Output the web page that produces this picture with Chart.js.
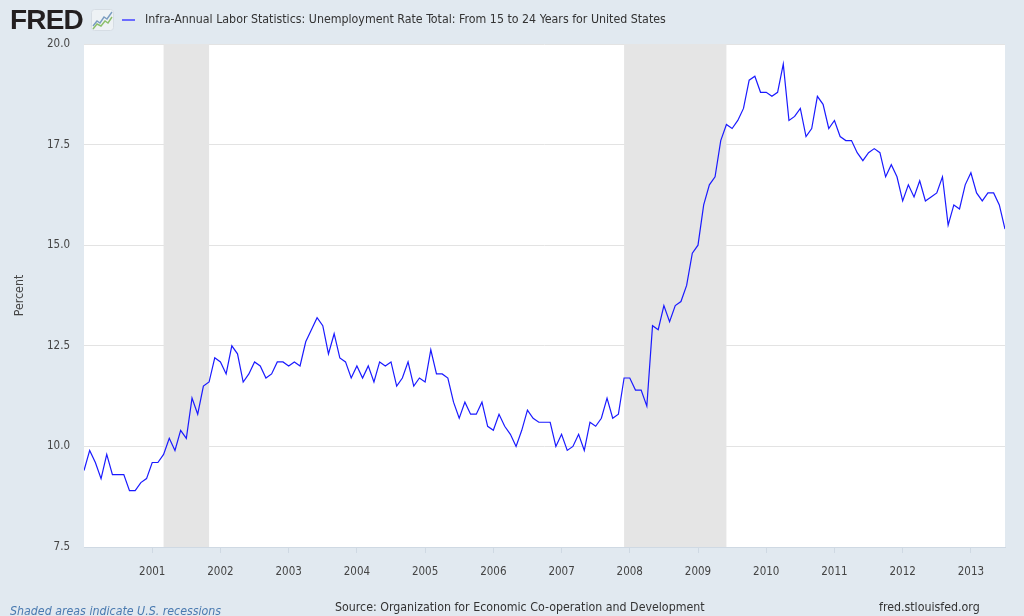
<!DOCTYPE html>
<html>
<head>
<meta charset="utf-8">
<script src="https://cdn.jsdelivr.net/npm/chart.js@4/dist/chart.umd.min.js"></script>
<style>
  html, body { margin:0; padding:0; background:#e1e9f0; }
  body { width:1024px; height:616px; position:relative; overflow:hidden; font-family:"Liberation Sans Narrow","DejaVu Sans Condensed","Liberation Sans",sans-serif; }
  #wrap { position:absolute; left:0; top:0; width:1024px; height:616px; }
  .logo { position:absolute; left:10px; top:5px; font-family:"Liberation Sans","DejaVu Sans",sans-serif; font-weight:bold; font-size:28px; letter-spacing:-0.8px; color:#231f20; line-height:30px; }
  .icon { position:absolute; left:91px; top:9px; }
  .legline { position:absolute; left:122px; top:19px; width:13px; height:2px; background:#6b6bff; }
  .legtxt { position:absolute; left:145px; top:12px; font-size:12.3px; color:#333; white-space:nowrap; }
  .foot { position:absolute; font-size:12.3px; color:#333; white-space:nowrap; }
</style>
</head>
<body>
<div id="wrap"><canvas id="c" width="1024" height="616"></canvas></div>
<div class="logo">FRED</div>
<svg class="icon" width="23" height="22" viewBox="0 0 23 22">
  <rect x="0.5" y="0.5" width="22" height="21" rx="3" fill="#eef2f5" stroke="#d6dde4"/>
  <polyline points="2,17 6,12 9,14 13,8 16,10 21,3" fill="none" stroke="#7a9cc0" stroke-width="1.4"/>
  <polyline points="2,20 6,15 10,17 14,12 17,14 21,8" fill="none" stroke="#8bbf6a" stroke-width="1.4"/>
</svg>
<div class="legline"></div>
<div class="legtxt">Infra-Annual Labor Statistics: Unemployment Rate Total: From 15 to 24 Years for United States</div>
<div class="foot" style="left:10px;top:604px;color:#4a7ab0;font-style:italic;">Shaded areas indicate U.S. recessions</div>
<div class="foot" style="left:335px;top:600px;">Source: Organization for Economic Co-operation and Development</div>
<div class="foot" style="left:879px;top:600px;">fred.stlouisfed.org</div>
<script>
// ---- data ----
const startYear = 2000;      // first observation: January 2000 (monthly)
const seriesLabel = "Infra-Annual Labor Statistics: Unemployment Rate Total: From 15 to 24 Years for United States";
const unemploymentRate = [
  9.4, 9.9, 9.6, 9.2, 9.8, 9.3, 9.3, 9.3, 8.9, 8.9, 9.1, 9.2,          // 2000
  9.6, 9.6, 9.8, 10.2, 9.9, 10.4, 10.2, 11.2, 10.8, 11.5, 11.6, 12.2,  // 2001
  12.1, 11.8, 12.5, 12.3, 11.6, 11.8, 12.1, 12.0, 11.7, 11.8, 12.1, 12.1, // 2002
  12.0, 12.1, 12.0, 12.6, 12.9, 13.2, 13.0, 12.3, 12.8, 12.2, 12.1, 11.7, // 2003
  12.0, 11.7, 12.0, 11.6, 12.1, 12.0, 12.1, 11.5, 11.7, 12.1, 11.5, 11.7, // 2004
  11.6, 12.4, 11.8, 11.8, 11.7, 11.1, 10.7, 11.1, 10.8, 10.8, 11.1, 10.5, // 2005
  10.4, 10.8, 10.5, 10.3, 10.0, 10.4, 10.9, 10.7, 10.6, 10.6, 10.6, 10.0, // 2006
  10.3, 9.9, 10.0, 10.3, 9.9, 10.6, 10.5, 10.7, 11.2, 10.7, 10.8, 11.7,   // 2007
  11.7, 11.4, 11.4, 11.0, 13.0, 12.9, 13.5, 13.1, 13.5, 13.6, 14.0, 14.8, // 2008
  15.0, 16.0, 16.5, 16.7, 17.6, 18.0, 17.9, 18.1, 18.4, 19.1, 19.2, 18.8, // 2009
  18.8, 18.7, 18.8, 19.5, 18.1, 18.2, 18.4, 17.7, 17.9, 18.7, 18.5, 17.9, // 2010
  18.1, 17.7, 17.6, 17.6, 17.3, 17.1, 17.3, 17.4, 17.3, 16.7, 17.0, 16.7, // 2011
  16.1, 16.5, 16.2, 16.6, 16.1, 16.2, 16.3, 16.7, 15.5, 16.0, 15.9, 16.5, // 2012
  16.8, 16.3, 16.1, 16.3, 16.3, 16.0, 15.4                                 // 2013
];
const yearTicks = [2001, 2002, 2003, 2004, 2005, 2006, 2007, 2008, 2009, 2010, 2011, 2012, 2013];
const yTicks = [7.5, 10.0, 12.5, 15.0, 17.5, 20.0];
// recessions as [start, end] in fractional years
const recessions = [[2001 + 2/12, 2001 + 10/12], [2007 + 11/12, 2009 + 5/12]];

const points = unemploymentRate.map((v, i) => ({ x: startYear + i / 12, y: v }));

const recessionPlugin = {
  id: 'recessions',
  beforeDatasetsDraw(chart) {
    const { ctx, chartArea, scales } = chart;
    ctx.save();
    ctx.fillStyle = '#e5e5e5';
    recessions.forEach(([a, b]) => {
      const x1 = scales.x.getPixelForValue(a), x2 = scales.x.getPixelForValue(b);
      ctx.fillRect(x1, chartArea.top, x2 - x1, chartArea.bottom - chartArea.top);
    });
    ctx.restore();
  }
};
const whiteBg = {
  id: 'whiteBg',
  beforeDraw(chart) {
    const { ctx, chartArea } = chart;
    ctx.save();
    ctx.fillStyle = '#ffffff';
    ctx.fillRect(chartArea.left, chartArea.top, chartArea.right - chartArea.left, chartArea.bottom - chartArea.top);
    ctx.restore();
  }
};

const font = { family: '"Liberation Sans Narrow","DejaVu Sans Condensed","Liberation Sans",sans-serif', size: 11.5 };

new Chart(document.getElementById('c'), {
  type: 'line',
  data: { datasets: [{ label: seriesLabel, data: points, borderColor: '#1a1aff', borderWidth: 1.2, pointRadius: 0, tension: 0, fill: false }] },
  options: {
    responsive: false, animation: false, events: [],
    layout: { padding: { top: 44, right: 19, left: 0, bottom: 0 } },
    plugins: { legend: { display: false }, tooltip: { enabled: false } },
    scales: {
      x: {
        type: 'linear',
        min: startYear,
        max: startYear + (unemploymentRate.length - 1) / 12,
        afterBuildTicks(scale) { scale.ticks = yearTicks.map(v => ({ value: v })); },
        afterFit(scale) { scale.height = 69; },
        ticks: { color: '#444', font, padding: 12, maxRotation: 0, autoSkip: false, callback: v => String(v) },
        grid: { drawOnChartArea: false, drawTicks: true, tickLength: 6, color: '#cfd9e3' },
        border: { display: true, color: '#cfd9e3' }
      },
      y: {
        min: 7.5, max: 20,
        afterBuildTicks(scale) { scale.ticks = yTicks.map(v => ({ value: v })); },
        afterFit(scale) { scale.width = 84; },
        ticks: { color: '#444', font, padding: 14, callback: v => v.toFixed(1) },
        grid: { color: '#e3e3e3', drawTicks: false },
        border: { display: false },
        title: { display: true, text: 'Percent', color: '#444', font: { ...font, size: 12.3 }, padding: { top: 12, bottom: 4 } }
      }
    }
  },
  plugins: [whiteBg, recessionPlugin]
});
</script>
</body>
</html>
